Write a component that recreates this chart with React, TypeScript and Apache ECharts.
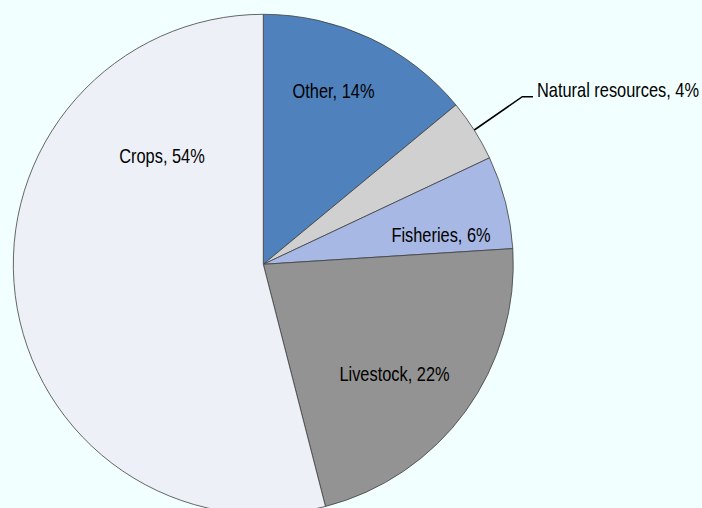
import React, { useEffect, useRef } from "react";
import * as echarts from "echarts";

const categories = ["Other", "Natural resources", "Fisheries", "Livestock", "Crops"];
const shares = [14, 4, 6, 22, 54];
const colors = ["#4F81BD", "#D0D0D0", "#A7B8E4", "#939393", "#EEF0F8"];

// label anchor points (pixels) and alignment, per category
const labelPos = [
  { x: 333.5, y: 91, align: "center" },
  { x: 537, y: 89.5, align: "left" },
  { x: 441, y: 234.5, align: "center" },
  { x: 394.5, y: 374, align: "center" },
  { x: 162, y: 156.3, align: "center" },
];
const leaderPoints = [
  [474.3, 130],
  [522.3, 96.7],
  [533, 96.7],
];

const FONT_FAMILY = "'Liberation Sans', Arial, sans-serif";
const NARROW = 0.82;

export default function App() {
  const ref = useRef<HTMLDivElement>(null);
  useEffect(() => {
    if (!ref.current) return;
    const chart = echarts.init(ref.current, undefined, { renderer: "svg" });
    const texts = categories.map((name, i) => ({
      type: "text",
      x: labelPos[i].x,
      y: labelPos[i].y,
      scaleX: NARROW,
      silent: true,
      z: 10,
      style: {
        text: `${name}, ${shares[i]}%`,
        fontFamily: FONT_FAMILY,
        fontSize: 20,
        fill: "#000",
        align: labelPos[i].align,
        verticalAlign: "middle",
      },
    }));
    chart.setOption({
      animation: false,
      backgroundColor: "#F2FFFF",
      graphic: [
        ...texts,
        {
          type: "polyline",
          silent: true,
          z: 10,
          shape: { points: leaderPoints },
          style: { stroke: "#000", lineWidth: 1.6, fill: null },
        },
      ],
      series: [
        {
          type: "pie",
          center: [263.3, 264.3],
          radius: 250,
          startAngle: 90,
          clockwise: true,
          avoidLabelOverlap: false,
          silent: true,
          itemStyle: { borderColor: "#404040", borderWidth: 0.8 },
          label: { show: false },
          labelLine: { show: false },
          data: categories.map((name, i) => ({
            name,
            value: shares[i],
            itemStyle: { color: colors[i] },
          })),
        },
      ],
    });
    return () => chart.dispose();
  }, []);
  return (
    <div
      ref={ref}
      style={{ position: "fixed", left: 0, top: 0, width: 702, height: 508 }}
    />
  );
}
